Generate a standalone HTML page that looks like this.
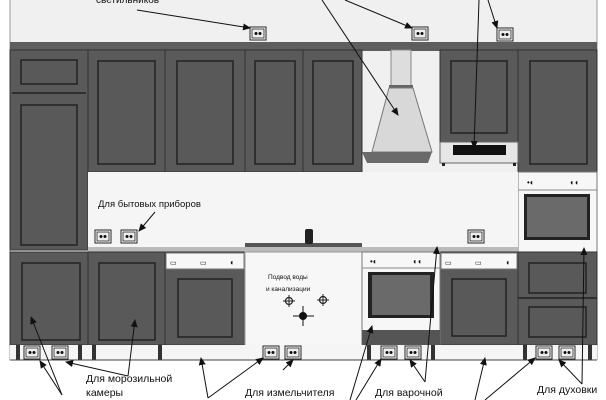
<!DOCTYPE html>
<html><head><meta charset="utf-8"><style>
html,body{margin:0;padding:0;background:#fff;}
svg{display:block;}
text{font-family:"Liberation Sans",sans-serif;fill:#111;}
</style></head><body>
<svg width="606" height="400" viewBox="0 0 606 400" xmlns="http://www.w3.org/2000/svg">
<defs>
<marker id="a" markerWidth="8" markerHeight="8" refX="7" refY="4" orient="auto" markerUnits="userSpaceOnUse"><path d="M0,0.5 L8,4 L0,7.5 z" fill="#111"/></marker>
<g id="sock"><rect x="0" y="0" width="16" height="13" fill="#fff" stroke="#222" stroke-width="1"/><rect x="2" y="2" width="12" height="9" fill="#eee" stroke="#222" stroke-width="0.8"/><circle cx="6" cy="6.5" r="1.5" fill="#111"/><circle cx="10" cy="6.5" r="1.5" fill="#111"/></g>
<g id="cross"><circle r="3.5" fill="none" stroke="#222" stroke-width="1.2"/><line x1="-6" y1="0" x2="6" y2="0" stroke="#222"/><line x1="0" y1="-6" x2="0" y2="6" stroke="#222"/></g>
</defs>
<!-- wall -->
<rect x="10" y="0" width="587" height="360" fill="#f0f0f0"/>
<line x1="10" y1="0" x2="10" y2="360" stroke="#999"/>
<line x1="597" y1="0" x2="597" y2="360" stroke="#999"/>
<!-- cornice -->
<rect x="10" y="42" width="587" height="9" fill="#5e5e5e"/>
<!-- upper cabinets -->
<g fill="#5a5a5a" stroke="#333" stroke-width="1">
<rect x="10" y="50" width="78" height="200"/>
<rect x="88" y="50" width="77" height="122"/>
<rect x="165" y="50" width="80" height="122"/>
<rect x="245" y="50" width="58" height="122"/>
<rect x="303" y="50" width="59" height="122"/>
<rect x="440" y="50" width="78" height="92"/>
<rect x="518" y="50" width="79" height="122"/>
</g>
<g fill="#595959" stroke="#222" stroke-width="1.5">
<rect x="21" y="60" width="56" height="24"/>
<line x1="12" y1="93" x2="86" y2="93"/>
<rect x="21" y="105" width="56" height="140"/>
<rect x="98" y="61" width="57" height="103"/>
<rect x="177" y="61" width="56" height="103"/>
<rect x="255" y="61" width="40" height="103"/>
<rect x="313" y="61" width="40" height="103"/>
<rect x="451" y="61" width="56" height="72"/>
<rect x="530" y="61" width="57" height="103"/>
</g>
<!-- hood -->
<rect x="391" y="50" width="20" height="36" fill="#ddd" stroke="#888"/>
<rect x="389" y="85" width="24" height="3" fill="#666"/>
<polygon points="389,88 413,88 432,152 372,152" fill="#d8d8d8" stroke="#777"/>
<polygon points="362,152 432,152 428,163 367,163" fill="#6a6a6a"/>
<!-- microwave -->
<rect x="440" y="142" width="78" height="21" fill="#e6e6e6" stroke="#666"/>
<rect x="453" y="145" width="53" height="10" fill="#111"/>
<rect x="442" y="163" width="3" height="3" fill="#222"/><rect x="513" y="163" width="3" height="3" fill="#222"/>
<!-- right oven column -->
<rect x="518" y="172" width="79" height="80" fill="#f7f7f7" stroke="#777"/>
<line x1="518" y1="190" x2="597" y2="190" stroke="#888"/>
<text x="527" y="185" font-size="8">•◐</text><text x="570" y="185" font-size="8">◐◐</text>
<rect x="524" y="194" width="66" height="46" fill="#222"/>
<rect x="527" y="197" width="60" height="40" fill="#6a6a6a"/>
<!-- backsplash / countertop -->
<rect x="88" y="172" width="430" height="76" fill="#f5f5f5"/>
<rect x="88" y="247" width="430" height="5" fill="#bbb"/>
<rect x="245" y="243" width="117" height="4" fill="#555"/>
<rect x="305" y="229" width="8" height="15" rx="2" fill="#222"/>
<text x="98" y="207" font-size="9.5">Для бытовых приборов</text>
<use href="#sock" x="95" y="230"/><use href="#sock" x="121" y="230"/>
<use href="#sock" x="468" y="230"/>
<!-- base cabinets -->
<g fill="#5a5a5a" stroke="#333" stroke-width="1">
<rect x="10" y="252" width="78" height="93"/>
<rect x="88" y="252" width="77" height="93"/>
<rect x="165" y="252" width="80" height="93"/>
<rect x="440" y="252" width="78" height="93"/>
<rect x="518" y="252" width="79" height="93"/>
</g>
<g fill="#595959" stroke="#222" stroke-width="1.5">
<rect x="22" y="263" width="58" height="77"/>
<rect x="99" y="263" width="56" height="77"/>
<rect x="178" y="279" width="54" height="58"/>
<rect x="452" y="279" width="54" height="57"/>
<rect x="529" y="263" width="57" height="30"/>
<line x1="518" y1="298" x2="597" y2="298"/>
<rect x="529" y="307" width="57" height="30"/>
</g>
<!-- panels -->
<rect x="166" y="253" width="78" height="16" fill="#f7f7f7" stroke="#777"/>
<text x="170" y="265" font-size="7">▭</text><text x="200" y="265" font-size="7">▭</text><text x="230" y="265" font-size="8">◐</text>
<rect x="441" y="253" width="76" height="16" fill="#f7f7f7" stroke="#777"/>
<text x="445" y="265" font-size="7">▭</text><text x="475" y="265" font-size="7">▭</text><text x="506" y="265" font-size="8">◐</text>
<!-- sink area -->
<rect x="245" y="252" width="117" height="108" fill="#f7f7f7" stroke="#999"/>
<text x="268" y="279" font-size="6.5">Подвод воды</text>
<text x="266" y="291" font-size="6.5">и канализации</text>
<use href="#cross" x="289" y="301"/><use href="#cross" x="323" y="300"/>
<circle cx="303" cy="316" r="4" fill="#111"/><line x1="293" y1="316" x2="314" y2="316" stroke="#111"/><line x1="303" y1="306" x2="303" y2="326" stroke="#111"/>
<!-- oven base -->
<rect x="362" y="252" width="78" height="93" fill="#f7f7f7" stroke="#777"/>
<line x1="362" y1="268" x2="440" y2="268" stroke="#888"/>
<text x="370" y="264" font-size="8">•◐</text><text x="413" y="264" font-size="8">◐◐</text>
<rect x="368" y="272" width="66" height="46" fill="#222"/>
<rect x="372" y="275" width="58" height="40" fill="#6a6a6a"/>
<rect x="362" y="330" width="78" height="15" fill="#555"/>
<!-- plinth -->
<rect x="10" y="345" width="587" height="15" fill="#f5f5f5"/>
<g fill="#333">
<rect x="16" y="345" width="4" height="15"/><rect x="78" y="345" width="4" height="15"/><rect x="92" y="345" width="4" height="15"/><rect x="158" y="345" width="4" height="15"/>
<rect x="367" y="345" width="4" height="15"/><rect x="431" y="345" width="4" height="15"/>
<rect x="523" y="345" width="4" height="15"/><rect x="588" y="345" width="4" height="15"/>
</g>
<line x1="10" y1="360" x2="597" y2="360" stroke="#444"/>
<use href="#sock" x="24" y="346"/><use href="#sock" x="52" y="346"/>
<use href="#sock" x="263" y="346"/><use href="#sock" x="285" y="346"/>
<use href="#sock" x="381" y="346"/><use href="#sock" x="405" y="346"/>
<use href="#sock" x="536" y="346"/><use href="#sock" x="559" y="346"/>
<!-- top sockets -->
<use href="#sock" x="250" y="27"/><use href="#sock" x="412" y="27"/><use href="#sock" x="497" y="28"/>
<text x="96" y="3" font-size="10">светильников</text>
<!-- arrows -->
<g stroke="#111" stroke-width="1" fill="none" marker-end="url(#a)">
<line x1="137" y1="10" x2="250" y2="28"/>
<line x1="322" y1="0" x2="398" y2="115"/>
<line x1="345" y1="0" x2="412" y2="28"/>
<line x1="479" y1="0" x2="474" y2="148"/>
<line x1="488" y1="0" x2="497" y2="28"/>
<line x1="155" y1="212" x2="139" y2="231"/>
<line x1="62" y1="395" x2="31" y2="317"/>
<line x1="62" y1="395" x2="40" y2="361"/>
<line x1="128" y1="376" x2="135" y2="320"/>
<line x1="128" y1="376" x2="66" y2="362"/>
<line x1="208" y1="398" x2="201" y2="358"/>
<line x1="208" y1="398" x2="263" y2="358"/>
<line x1="283" y1="370" x2="293" y2="360"/>
<line x1="350" y1="400" x2="372" y2="326"/>
<line x1="356" y1="400" x2="381" y2="359"/>
<line x1="425" y1="382" x2="437" y2="247"/>
<line x1="425" y1="382" x2="410" y2="360"/>
<line x1="475" y1="400" x2="485" y2="358"/>
<line x1="485" y1="400" x2="535" y2="358"/>
<line x1="582" y1="384" x2="584" y2="248"/>
<line x1="582" y1="384" x2="559" y2="360"/>
</g>
<text x="86" y="382" font-size="10.5">Для морозильной</text>
<text x="86" y="396" font-size="10.5">камеры</text>
<text x="245" y="396" font-size="10.5">Для измельчителя</text>
<text x="375" y="396" font-size="10.5">Для варочной</text>
<text x="537" y="393" font-size="10.5">Для духовки</text>
</svg>
</body></html>
